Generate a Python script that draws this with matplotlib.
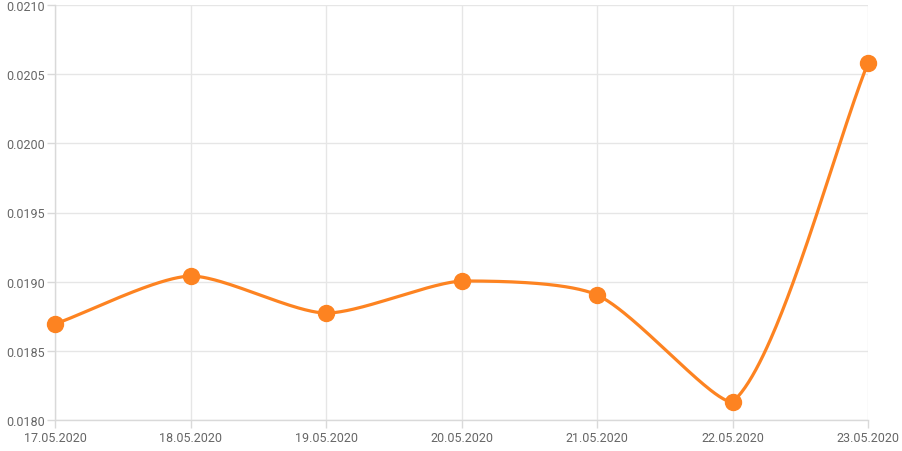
import matplotlib
matplotlib.use("Agg")
import matplotlib.pyplot as plt
import numpy as np

dates = ["17.05.2020", "18.05.2020", "19.05.2020", "20.05.2020",
         "21.05.2020", "22.05.2020", "23.05.2020"]
values = [0.018694, 0.019041, 0.018773, 0.019005, 0.018904, 0.01813, 0.020581]

plt.rcParams['font.family'] = ['Roboto', 'DejaVu Sans']

W, H = 902, 452
fig = plt.figure(figsize=(W / 100, H / 100), dpi=100)
ax = fig.add_axes([55 / W, 1 - 421 / H, (868 - 55) / W, (421 - 6) / H])

ymin, ymax = 0.0180, 0.0210
ax.set_xlim(0, len(dates) - 1)
ax.set_ylim(ymin, ymax)


def spline_path(xs, ys, t=0.25):
    # bezier through points (pixel space), control points kept inside each segment's y range
    bw = ax.get_position().width * W
    bh = ax.get_position().height * H
    px = np.array(xs) / (len(dates) - 1) * bw
    py = (np.array(ys) - ymin) / (ymax - ymin) * bh
    n = len(px)
    cp_prev = []
    cp_next = []
    for i in range(n):
        p0 = (px[max(i - 1, 0)], py[max(i - 1, 0)])
        p1 = (px[i], py[i])
        p2 = (px[min(i + 1, n - 1)], py[min(i + 1, n - 1)])
        d01 = np.hypot(p1[0] - p0[0], p1[1] - p0[1])
        d12 = np.hypot(p2[0] - p1[0], p2[1] - p1[1])
        s = d01 + d12
        s01 = d01 / s if s else 0
        s12 = d12 / s if s else 0
        fa, fb = t * s01, t * s12
        cp_prev.append([p1[0] - fa * (p2[0] - p0[0]), p1[1] - fa * (p2[1] - p0[1])])
        cp_next.append([p1[0] + fb * (p2[0] - p0[0]), p1[1] + fb * (p2[1] - p0[1])])
    out_x, out_y = [], []
    u = np.linspace(0, 1, 80)
    for i in range(n - 1):
        lo, hi = min(py[i], py[i + 1]), max(py[i], py[i + 1])
        P0 = np.array([px[i], py[i]])
        P1 = np.array(cp_next[i])
        P2 = np.array(cp_prev[i + 1])
        P1[1] = np.clip(P1[1], lo, hi)
        P2[1] = np.clip(P2[1], lo, hi)
        P3 = np.array([px[i + 1], py[i + 1]])
        b = ((1 - u) ** 3)[:, None] * P0 + (3 * (1 - u) ** 2 * u)[:, None] * P1 \
            + (3 * (1 - u) * u ** 2)[:, None] * P2 + (u ** 3)[:, None] * P3
        out_x.extend(b[:, 0])
        out_y.extend(b[:, 1])
    return np.array(out_x) / bw, np.array(out_y) / bh


x = np.arange(len(dates))
sx, sy = spline_path(x, values)
color = '#fd8321'
ax.plot(sx, sy, color=color, linewidth=2.3, transform=ax.transAxes, zorder=3, clip_on=False)
ax.plot(x, values, 'o', color=color, markersize=11.5, zorder=4, clip_on=False)

ax.set_xticks(x)
ax.set_xticklabels(dates)
yt = np.arange(0.0180, 0.02101, 0.0005)
ax.set_yticks(yt)
ax.set_yticklabels(["%.4f" % v for v in yt])

ax.grid(True, color='#e6e6e6', linewidth=1)
ax.set_axisbelow(True)
for side in ['top', 'right']:
    ax.spines[side].set_visible(False)
for side in ['left', 'bottom']:
    ax.spines[side].set_color('#d9d9d9')
    ax.spines[side].set_linewidth(1)
ax.tick_params(axis='both', colors='#d9d9d9', length=6, width=1, labelsize=9, labelcolor='#666666')
ax.tick_params(axis='x', pad=2)
ax.tick_params(axis='y', pad=1)

fig.savefig("out.png", dpi=100)
